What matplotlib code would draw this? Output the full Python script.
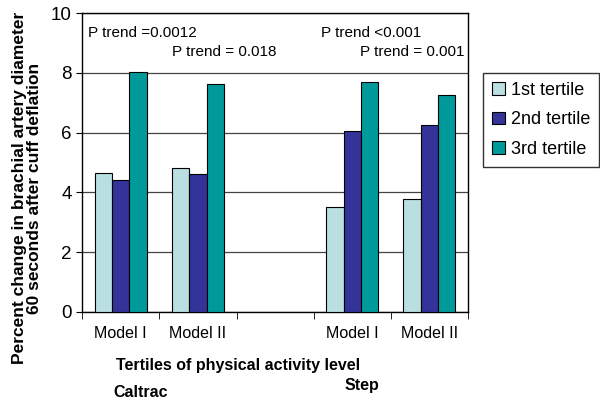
import numpy as np
import matplotlib.pyplot as plt

plt.rcParams['font.family'] = ['Liberation Sans', 'DejaVu Sans']

categories = ["Model I", "Model II", "", "Model I", "Model II"]
tertile_names = ["1st tertile", "2nd tertile", "3rd tertile"]
first_tertile = [4.66, 4.80, np.nan, 3.51, 3.76]
second_tertile = [4.40, 4.60, np.nan, 6.05, 6.24]
third_tertile = [8.03, 7.62, np.nan, 7.70, 7.24]
colors = ["#b9dfe1", "#333399", "#009a9a"]

fig = plt.figure(figsize=(6, 4.07), dpi=100)
ax = fig.add_axes([0.137, 0.234, 0.643, 0.734])

x = np.arange(len(categories))
w = 0.225
for i, (vals, name) in enumerate(zip([first_tertile, second_tertile, third_tertile], tertile_names)):
    ax.bar(x + (i - 1) * w, vals, w, color=colors[i], edgecolor="black", linewidth=0.8,
           label=name, zorder=3)

ax.set_xlim(-0.5, len(categories) - 0.5)
ax.set_ylim(0, 10)
ax.set_yticks([0, 2, 4, 6, 8, 10])
ax.yaxis.grid(True, color="#444444", linewidth=0.9, zorder=0)
ax.set_xticks(x)
ax.set_xticklabels(categories, fontsize=11.5)
ax.set_xticks(np.arange(len(categories) + 1) - 0.5, minor=True)
ax.tick_params(axis="x", which="major", length=0, pad=10)
ax.tick_params(axis="x", which="minor", length=5, direction="out")
ax.tick_params(axis="y", labelsize=13.5, length=4, direction="out")
for s in ax.spines.values():
    s.set_linewidth(1.0)

fig.text(0.045, 1 - 188 / 407,
         "Percent change in brachial artery diameter\n60 seconds after cuff deflation",
         fontsize=12.5, fontweight="bold", rotation=90, ha="center", va="center",
         linespacing=1.0)

# p-trend annotations
ax.text(-0.42, 9.2, "P trend =0.0012", fontsize=11)
ax.text(0.66, 8.55, "P trend = 0.018", fontsize=11)
ax.text(2.6, 9.2, "P trend <0.001", fontsize=11)
ax.text(4.46, 8.55, "P trend = 0.001", fontsize=11, ha="right")

fig.text(0.397, 0.103, "Tertiles of physical activity level", fontsize=11.5,
         fontweight="bold", ha="center", va="center")
fig.text(0.235, 0.035, "Caltrac", fontsize=11.5, fontweight="bold", ha="center", va="center")
fig.text(0.603, 0.052, "Step", fontsize=11.5, fontweight="bold", ha="center", va="center")

leg = ax.legend(loc="upper left", bbox_to_anchor=(1.04, 0.80), fontsize=13,
                frameon=True, fancybox=False, edgecolor="black",
                handlelength=0.7, handleheight=0.7, handletextpad=0.3,
                labelspacing=0.7, borderpad=0.5, borderaxespad=0)
leg.get_frame().set_linewidth(1.0)

fig.savefig("out.png", dpi=100)
